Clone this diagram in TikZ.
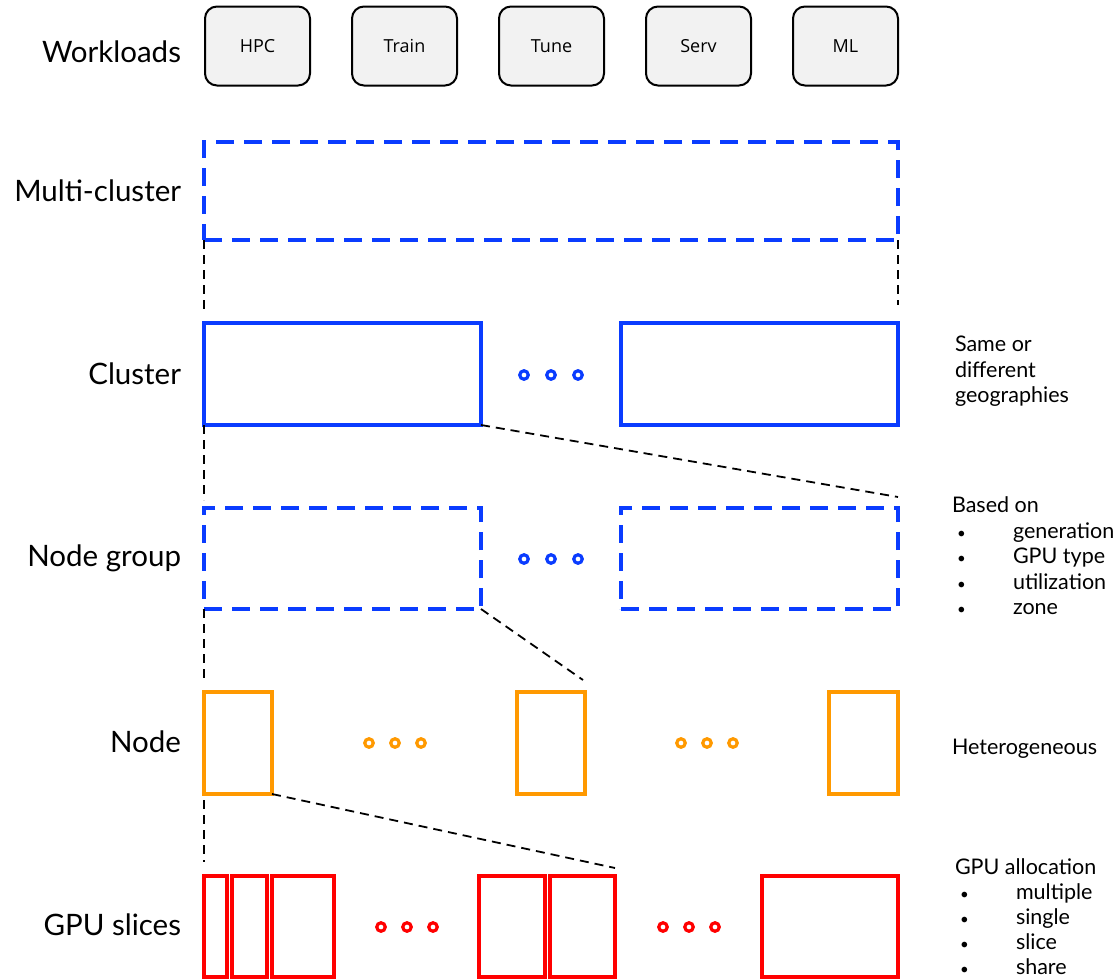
\documentclass[tikz,border=0pt]{standalone}
\usepackage{fontspec}
\usetikzlibrary{calc}
\setmainfont{Open Sans}
\newfontfamily\labelfont{Lato}
\definecolor{rhblue}{HTML}{0A3CFF}
\definecolor{rhorange}{HTML}{FF9900}
\definecolor{rhred}{HTML}{FF0000}
\definecolor{wlfill}{HTML}{F2F2F2}
\newcommand{\bulletitem}[2]{\makebox[#1][l]{\scalebox{0.7}{\textbullet}}}
\begin{document}
\begin{tikzpicture}[x=1pt,y=-1pt,
  every node/.style={inner sep=0pt, outer sep=0pt},
  level/.style={anchor=east, font=\labelfont\fontsize{29.5}{34}\selectfont},
  note/.style={anchor=north west, align=left, font=\labelfont\fontsize{21.5}{25.5}\selectfont},
  wl/.style={draw=black, line width=2pt, fill=wlfill, rounded corners=12pt,
    minimum width=105pt, minimum height=79pt, font=\fontsize{18}{21}\selectfont},
  dashbox/.style={draw=rhblue, line width=4pt, dash pattern=on 18pt off 10pt},
  bluebox/.style={draw=rhblue, line width=4pt},
  orangebox/.style={draw=rhorange, line width=4pt},
  redbox/.style={draw=rhred, line width=4pt},
  ring/.style={circle, draw=#1, line width=3.2pt, minimum size=8.5pt},
  zoomline/.style={draw=black, line width=1.8pt, dash pattern=on 9pt off 6pt}
]
\useasboundingbox (0,0) rectangle (1120,980);

% level labels
\node[level] (lw)  at (181,52)  {Workloads};
\node[level] (lmc) at (181,191) {Multi-cluster};
\node[level] (lcl) at (181,374) {Cluster};
\node[level] (lng) at (181,558) {Node group};
\node[level] (lnd) at (181,742) {Node};
\node[level] (lsl) at (181,925) {GPU slices};

% workloads
\node[wl] (w1) at (257.5,46) {HPC};
\node[wl] (w2) at (404.5,46) {Train};
\node[wl] (w3) at (551.5,46) {Tune};
\node[wl] (w4) at (698.5,46) {Serv};
\node[wl] (w5) at (845.5,46) {ML};

% multi-cluster
\node[dashbox, minimum width=694pt, minimum height=98pt] (mc) at (551,191) {};

% clusters
\node[bluebox, minimum width=277pt, minimum height=102pt] (cl1) at (342.5,374) {};
\node[bluebox, minimum width=277pt, minimum height=102pt] (cl2) at (759.5,374) {};
\node[ring=rhblue] (cd1) at (524,375) {};
\node[ring=rhblue] (cd2) at (551,375) {};
\node[ring=rhblue] (cd3) at (578,375) {};

% node groups
\node[dashbox, minimum width=277pt, minimum height=101pt] (ng1) at (342.5,558.5) {};
\node[dashbox, minimum width=277pt, minimum height=101pt] (ng2) at (759.5,558.5) {};
\node[ring=rhblue] (gd1) at (524,559) {};
\node[ring=rhblue] (gd2) at (551,559) {};
\node[ring=rhblue] (gd3) at (578,559) {};

% nodes
\node[orangebox, minimum width=68pt, minimum height=102pt] (nd1) at (238,743) {};
\node[orangebox, minimum width=68pt, minimum height=102pt] (nd2) at (551,743) {};
\node[orangebox, minimum width=69pt, minimum height=102pt] (nd3) at (863.5,743) {};
\node[ring=rhorange] (nda) at (369,743) {};
\node[ring=rhorange] (ndb) at (395,743) {};
\node[ring=rhorange] (ndc) at (421,743) {};
\node[ring=rhorange] (ndd) at (681,743) {};
\node[ring=rhorange] (nde) at (707,743) {};
\node[ring=rhorange] (ndf) at (733,743) {};

% GPU slices
\node[redbox, minimum width=23pt, minimum height=101pt] (sl1) at (215.5,926.5) {};
\node[redbox, minimum width=35pt, minimum height=101pt] (sl2) at (249.5,926.5) {};
\node[redbox, minimum width=62pt, minimum height=101pt] (sl3) at (303,926.5) {};
\node[redbox, minimum width=66pt, minimum height=101pt] (sl4) at (512,926.5) {};
\node[redbox, minimum width=65pt, minimum height=101pt] (sl5) at (582.5,926.5) {};
\node[redbox, minimum width=136pt, minimum height=101pt] (sl6) at (830,926.5) {};
\node[ring=rhred] (sda) at (381,927) {};
\node[ring=rhred] (sdb) at (407,927) {};
\node[ring=rhred] (sdc) at (433,927) {};
\node[ring=rhred] (sdd) at (663,927) {};
\node[ring=rhred] (sde) at (689,927) {};
\node[ring=rhred] (sdf) at (715,927) {};

% free ends of the zoom-in guides, just above the box they point to
\coordinate (g1) at ($(cl1.north west)+(0,-13)$);
\coordinate (g2) at ($(cl2.north east)+(0,-18)$);
\coordinate (g3) at ($(ng1.north west)+(0,-8)$);
\coordinate (g4) at ($(ng2.north east)+(0,-11)$);
\coordinate (g5) at ($(nd1.north west)+(0,-12)$);
\coordinate (g6) at ($(nd2.north east)+(-2,-12)$);
\coordinate (g7) at ($(sl1.north west)+(0,-14)$);
\coordinate (g8) at ($(sl5.north east)+(0,-8)$);

% zoom-in guides
\draw[zoomline] (mc.south west) -- (g1);
\draw[zoomline] (mc.south east) -- (g2);
\draw[zoomline] (cl1.south west) -- (g3);
\draw[zoomline] (cl1.south east) -- (g4);
\draw[zoomline] (ng1.south west) -- (g5);
\draw[zoomline] (ng1.south east) -- (g6);
\draw[zoomline, shorten <=6pt] (nd1.south west) -- (g7);
\draw[zoomline] (nd1.south east) -- (g8);

% notes
\node[note] (ncl) at (955,336) {Same or\\different\\geographies};
\node[note] (nng) at (952,497) {Based on\\
  \hspace*{5pt}\bulletitem{56pt}{}generation\\
  \hspace*{5pt}\bulletitem{56pt}{}GPU type\\
  \hspace*{5pt}\bulletitem{56pt}{}utilization\\
  \hspace*{5pt}\bulletitem{56pt}{}zone};
\node[note, anchor=west] (nnd) at (952,749) {Heterogeneous};
\node[note, font=\labelfont\fontsize{21.5}{24.8}\selectfont] (nsl) at (955,859) {GPU allocation\\
  \hspace*{5pt}\bulletitem{56pt}{}multiple\\
  \hspace*{5pt}\bulletitem{56pt}{}single\\
  \hspace*{5pt}\bulletitem{56pt}{}slice\\
  \hspace*{5pt}\bulletitem{56pt}{}share};
\end{tikzpicture}
\end{document}
